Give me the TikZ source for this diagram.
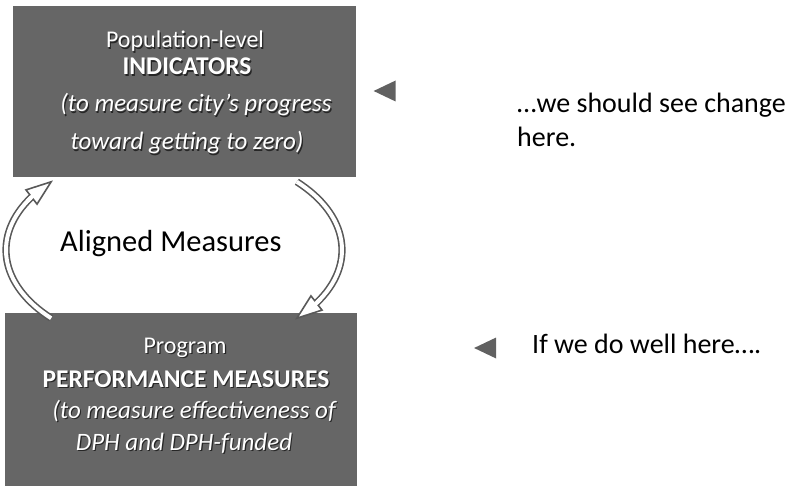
\documentclass[tikz,border=0pt]{standalone}
\usepackage{fontspec}
\setmainfont{Carlito}
\usetikzlibrary{calc,shapes.geometric}
\newcommand{\shad}[1]{\makebox[0pt][l]{\hspace{1.2pt}\raisebox{-1.2pt}{\color{black!85}#1}}{\color{white}#1}}

\begin{document}
\begin{tikzpicture}[x=1pt, y=-1pt,
		boxfill/.style={fill=black!60, draw=none, inner sep=0},
		boxtext/.style={font=\fontsize{24}{28}\selectfont, inner sep=0, anchor=base},
		boldtext/.style={boxtext, font=\fontsize{25.5}{30}\selectfont\bfseries},
		italtext/.style={boxtext, font=\fontsize{25}{30}\selectfont\itshape},
		sidetext/.style={font=\fontsize{28}{32}\selectfont, inner sep=0, anchor=base west},
		band/.style={draw=black!65, line width=1.6pt, double=white, double distance=4pt},
		head/.style={draw=black!65, line width=1.6pt, fill=white, line join=miter},
		marker/.style={isosceles triangle, shape border rotate=180, isosceles triangle stretches,
			fill=black!62, inner sep=0, minimum height=22pt, minimum width=21pt}]
			%%%%% START %%%%%
			
			\useasboundingbox (0, 0) rectangle (795, 486);
			
			\node[boxfill, minimum width=343pt, minimum height=171pt] (indic) at (184.5, 91.5) {};
			\node[boxfill, minimum width=352pt, minimum height=173pt] (perf) at (181, 399.5) {};
			
			\node[boxtext] (t1) at (185, 48) {\shad{Population-level}};
			\node[boldtext] (t2) at (187, 75) {\shad{INDICATORS}};
			\node[italtext] (t3) at (196, 112) {\shad{(to measure city’s progress}};
			\node[italtext] (t4) at (187, 150) {\shad{toward getting to zero)}};
			
			\node[boxtext] (p1) at (185, 353) {\shad{Program}};
			\node[boldtext] (p2) at (186, 387) {\shad{PERFORMANCE MEASURES}};
			\node[italtext] (p3) at (194, 418) {\shad{(to measure effectiveness of}};
			\node[italtext] (p4) at (184, 450) {\shad{DPH and DPH-funded}};
			
			\node[font=\fontsize{30.5}{35}\selectfont, inner sep=0, anchor=base west] (aligned) at (60, 252) {Aligned Measures};
			
			% curved arrows
			\coordinate (ctr) at (174, 250);
			\draw[band] ($(ctr)+(137:168 and 100)$) arc[start angle=137, end angle=212, x radius=168, y radius=100];
			\coordinate (lb) at ($(ctr)+(212:168 and 100)$);
			\coordinate (lt) at ($(ctr)+(223:168 and 100)$);
			\draw[head] (lt) -- ($(lb)!9pt!90:(lt)$) -- ($(lb)!9pt!-90:(lt)$) -- cycle;
			\draw[white, line width=4pt] ($(ctr)+(209:168 and 100)$) arc[start angle=209, end angle=213, x radius=168, y radius=100];
			
			\draw[band] ($(ctr)+(-43:168 and 100)$) arc[start angle=-43, end angle=32, x radius=168, y radius=100];
			\coordinate (rb) at ($(ctr)+(32:168 and 100)$);
			\coordinate (rt) at ($(ctr)+(43:168 and 100)$);
			\draw[head] (rt) -- ($(rb)!9pt!90:(rt)$) -- ($(rb)!9pt!-90:(rt)$) -- cycle;
			\draw[white, line width=4pt] ($(ctr)+(29:168 and 100)$) arc[start angle=29, end angle=33, x radius=168, y radius=100];
			
			% side notes
			\node[marker] (mk1) at (389, 91) {};
			\node[sidetext] (s1) at (517, 113) {…we should see change};
			\node[sidetext] (s2) at (517, 147) {here.};
			
			\node[marker] (mk2) at (489.5, 348) {};
			\node[sidetext] (s3) at (532, 353) {If we do well here….};
			
			%%%%% END %%%%%
\end{tikzpicture}
\end{document}
